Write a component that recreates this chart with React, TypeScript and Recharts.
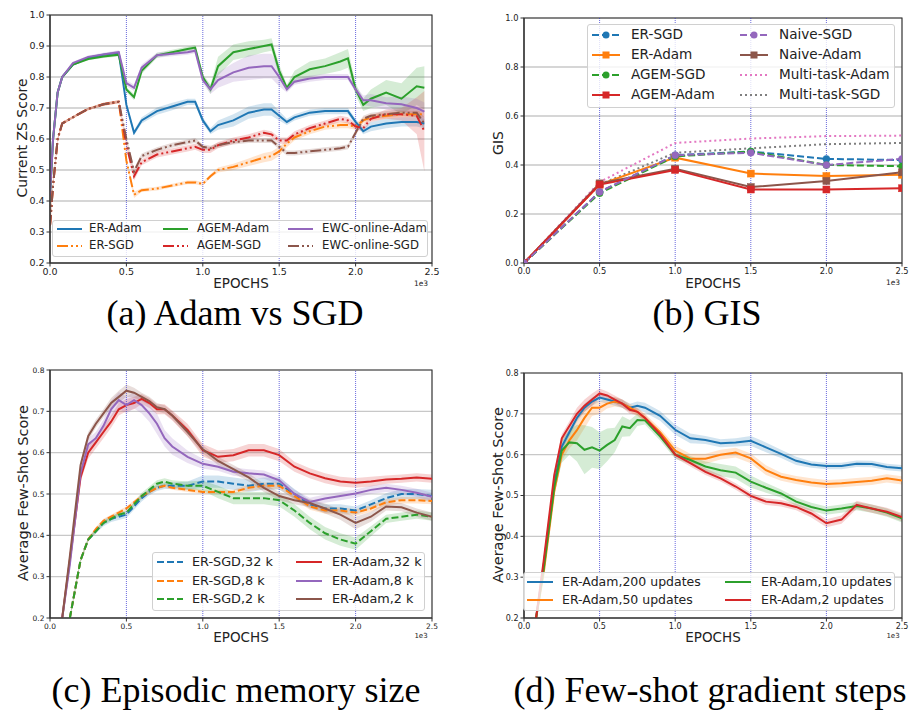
import React from "react";
import {
  ComposedChart,
  Line,
  Area,
  XAxis,
  YAxis,
  CartesianGrid,
  ReferenceLine,
  ReferenceArea,
} from "recharts";

const SANS = "'DejaVu Sans', sans-serif";
const SERIF = "'Liberation Serif', 'Times New Roman', serif";

// shared x axis
const xTicks = [0, 500, 1000, 1500, 2000, 2500];
const taskBoundaries = [500, 1000, 1500, 2000];

// ---------- (a) Adam vs SGD ----------
const epochsA = [0, 20, 50, 80, 150, 250, 350, 450, 500, 550, 600, 700, 800, 900, 950, 1000, 1050, 1100, 1200, 1300, 1400, 1450, 1500, 1550, 1600, 1700, 1800, 1900, 1950, 2000, 2050, 2100, 2200, 2300, 2400, 2450];
const erAdamA = [0.42, 0.6, 0.75, 0.8, 0.84, 0.862, 0.872, 0.878, 0.71, 0.62, 0.66, 0.69, 0.705, 0.72, 0.72, 0.66, 0.625, 0.645, 0.66, 0.685, 0.695, 0.695, 0.675, 0.655, 0.67, 0.685, 0.69, 0.69, 0.69, 0.655, 0.625, 0.64, 0.65, 0.655, 0.655, 0.65];
const agemAdamA = [0.42, 0.6, 0.75, 0.8, 0.84, 0.858, 0.866, 0.872, 0.76, 0.735, 0.82, 0.87, 0.88, 0.89, 0.895, 0.8, 0.76, 0.835, 0.88, 0.89, 0.9, 0.905, 0.82, 0.765, 0.8, 0.825, 0.835, 0.85, 0.86, 0.76, 0.71, 0.73, 0.75, 0.73, 0.77, 0.765];
const ewcAdamA = [0.42, 0.6, 0.75, 0.8, 0.845, 0.865, 0.873, 0.88, 0.78, 0.765, 0.83, 0.87, 0.875, 0.88, 0.885, 0.79, 0.76, 0.79, 0.815, 0.83, 0.835, 0.835, 0.8, 0.76, 0.785, 0.795, 0.8, 0.8, 0.8, 0.76, 0.725, 0.725, 0.715, 0.712, 0.7, 0.688];
const erSgdA = [0.32, 0.45, 0.6, 0.65, 0.67, 0.697, 0.712, 0.72, 0.53, 0.42, 0.435, 0.44, 0.45, 0.46, 0.46, 0.455, 0.48, 0.5, 0.51, 0.525, 0.54, 0.545, 0.56, 0.585, 0.605, 0.625, 0.64, 0.645, 0.645, 0.64, 0.66, 0.67, 0.675, 0.68, 0.68, 0.68];
const agemSgdA = [0.32, 0.45, 0.6, 0.65, 0.67, 0.697, 0.712, 0.72, 0.58, 0.48, 0.525, 0.55, 0.56, 0.57, 0.575, 0.565, 0.565, 0.58, 0.595, 0.605, 0.62, 0.615, 0.595, 0.595, 0.615, 0.635, 0.65, 0.665, 0.66, 0.64, 0.635, 0.665, 0.68, 0.68, 0.675, 0.625];
const ewcSgdA = [0.32, 0.45, 0.6, 0.65, 0.67, 0.697, 0.712, 0.72, 0.6, 0.495, 0.545, 0.565, 0.58, 0.59, 0.595, 0.575, 0.57, 0.58, 0.59, 0.595, 0.595, 0.595, 0.575, 0.555, 0.555, 0.56, 0.565, 0.57, 0.575, 0.62, 0.665, 0.675, 0.68, 0.685, 0.685, 0.65];
// half-width of the shaded bands
const erAdamSdA = [0.01, 0.01, 0.005, 0.005, 0.004, 0.004, 0.005, 0.006, 0.008, 0.008, 0.01, 0.012, 0.012, 0.01, 0.01, 0.01, 0.01, 0.015, 0.02, 0.02, 0.02, 0.02, 0.015, 0.01, 0.01, 0.01, 0.01, 0.01, 0.01, 0.01, 0.01, 0.015, 0.015, 0.015, 0.015, 0.015];
const agemAdamSdA = [0.01, 0.01, 0.005, 0.005, 0.004, 0.004, 0.005, 0.006, 0.008, 0.01, 0.01, 0.008, 0.008, 0.008, 0.008, 0.01, 0.015, 0.03, 0.025, 0.025, 0.02, 0.02, 0.02, 0.01, 0.02, 0.025, 0.025, 0.03, 0.03, 0.02, 0.02, 0.03, 0.04, 0.05, 0.06, 0.07];
const ewcAdamSdA = [0.01, 0.01, 0.005, 0.005, 0.004, 0.004, 0.005, 0.006, 0.01, 0.01, 0.01, 0.008, 0.008, 0.008, 0.008, 0.01, 0.015, 0.025, 0.03, 0.04, 0.04, 0.04, 0.03, 0.01, 0.01, 0.01, 0.01, 0.01, 0.01, 0.01, 0.015, 0.02, 0.02, 0.025, 0.03, 0.03];
const erSgdSdA = [0.01, 0.01, 0.005, 0.005, 0.004, 0.004, 0.005, 0.005, 0.01, 0.01, 0.006, 0.006, 0.006, 0.006, 0.006, 0.006, 0.006, 0.008, 0.01, 0.012, 0.015, 0.015, 0.015, 0.012, 0.01, 0.01, 0.01, 0.01, 0.01, 0.01, 0.01, 0.01, 0.01, 0.01, 0.01, 0.01];
const agemSgdSdA = [0.01, 0.01, 0.005, 0.005, 0.004, 0.004, 0.005, 0.005, 0.01, 0.015, 0.01, 0.01, 0.01, 0.01, 0.01, 0.01, 0.01, 0.01, 0.01, 0.01, 0.01, 0.01, 0.01, 0.01, 0.01, 0.01, 0.01, 0.01, 0.01, 0.01, 0.01, 0.01, 0.015, 0.02, 0.06, 0.13];
const ewcSgdSdA = [0.01, 0.01, 0.005, 0.005, 0.004, 0.004, 0.005, 0.005, 0.01, 0.01, 0.008, 0.008, 0.008, 0.008, 0.008, 0.008, 0.008, 0.008, 0.008, 0.008, 0.008, 0.008, 0.008, 0.008, 0.008, 0.008, 0.008, 0.008, 0.008, 0.01, 0.01, 0.01, 0.01, 0.01, 0.015, 0.02];
const yTicksA = [0.2, 0.3, 0.4, 0.5, 0.6, 0.7, 0.8, 0.9, 1.0];

// ---------- (b) GIS ----------
const epochsB = [0, 500, 1000, 1500, 2000, 2500];
const erSgdB = [0, 0.29, 0.44, 0.455, 0.425, 0.42];
const erAdamB = [0, 0.32, 0.43, 0.365, 0.355, 0.36];
const agemSgdB = [0, 0.285, 0.435, 0.455, 0.4, 0.395];
const agemAdamB = [0, 0.32, 0.38, 0.3, 0.3, 0.305];
const naiveSgdB = [0, 0.29, 0.44, 0.45, 0.4, 0.425];
const naiveAdamB = [0, 0.325, 0.385, 0.31, 0.335, 0.37];
const mtAdamB = [0, 0.33, 0.49, 0.508, 0.518, 0.52];
const mtSgdB = [0, 0.32, 0.45, 0.468, 0.485, 0.49];
const yTicksB = [0, 0.2, 0.4, 0.6, 0.8, 1.0];

// ---------- (c) Episodic memory size / (d) Few-shot gradient steps ----------
const epochsC = [80, 130, 200, 250, 300, 350, 400, 450, 500, 550, 600, 650, 700, 750, 800, 900, 1000, 1100, 1200, 1300, 1400, 1500, 1600, 1700, 1800, 1900, 2000, 2100, 2200, 2300, 2400, 2500];
const sgd32C = [null, 0.2, 0.34, 0.39, 0.41, 0.43, 0.44, 0.445, 0.45, 0.47, 0.49, 0.505, 0.515, 0.52, 0.52, 0.52, 0.53, 0.53, 0.525, 0.52, 0.525, 0.525, 0.5, 0.475, 0.465, 0.465, 0.46, 0.475, 0.49, 0.5, 0.5, 0.495];
const sgd8C = [null, 0.2, 0.34, 0.39, 0.415, 0.435, 0.445, 0.455, 0.465, 0.48, 0.495, 0.505, 0.515, 0.52, 0.515, 0.51, 0.505, 0.505, 0.505, 0.515, 0.52, 0.52, 0.495, 0.47, 0.46, 0.46, 0.455, 0.465, 0.48, 0.485, 0.485, 0.483];
const sgd2C = [null, 0.2, 0.34, 0.39, 0.41, 0.43, 0.44, 0.45, 0.455, 0.475, 0.495, 0.51, 0.525, 0.53, 0.525, 0.52, 0.52, 0.505, 0.49, 0.49, 0.49, 0.485, 0.46, 0.43, 0.405, 0.39, 0.38, 0.41, 0.44, 0.445, 0.45, 0.445];
const adam32C = [0.2, 0.34, 0.54, 0.6, 0.625, 0.65, 0.675, 0.705, 0.715, 0.72, 0.73, 0.72, 0.705, 0.705, 0.69, 0.655, 0.606, 0.59, 0.594, 0.606, 0.606, 0.594, 0.566, 0.55, 0.538, 0.53, 0.527, 0.53, 0.535, 0.537, 0.54, 0.537];
const adam8C = [0.2, 0.33, 0.55, 0.62, 0.635, 0.665, 0.705, 0.727, 0.715, 0.727, 0.715, 0.695, 0.67, 0.635, 0.615, 0.59, 0.573, 0.566, 0.554, 0.55, 0.547, 0.533, 0.5, 0.481, 0.489, 0.495, 0.501, 0.51, 0.515, 0.51, 0.503, 0.493];
const adam2C = [0.2, 0.35, 0.57, 0.64, 0.67, 0.695, 0.72, 0.735, 0.75, 0.745, 0.735, 0.725, 0.71, 0.705, 0.69, 0.65, 0.608, 0.58, 0.56, 0.54, 0.515, 0.495, 0.485, 0.478, 0.465, 0.45, 0.43, 0.445, 0.47, 0.468, 0.455, 0.445];
const sgd32SdC = [null, 0.005, 0.005, 0.005, 0.005, 0.008, 0.008, 0.008, 0.008, 0.008, 0.008, 0.008, 0.008, 0.008, 0.008, 0.01, 0.015, 0.015, 0.015, 0.015, 0.015, 0.015, 0.012, 0.01, 0.01, 0.01, 0.01, 0.01, 0.012, 0.012, 0.012, 0.015];
const sgd8SdC = [null, 0.005, 0.005, 0.005, 0.005, 0.005, 0.005, 0.005, 0.005, 0.005, 0.005, 0.005, 0.005, 0.005, 0.005, 0.005, 0.005, 0.005, 0.005, 0.008, 0.008, 0.008, 0.008, 0.008, 0.008, 0.008, 0.008, 0.008, 0.008, 0.008, 0.008, 0.008];
const sgd2SdC = [null, 0.005, 0.005, 0.005, 0.005, 0.005, 0.005, 0.005, 0.005, 0.005, 0.008, 0.008, 0.008, 0.008, 0.008, 0.01, 0.012, 0.015, 0.015, 0.015, 0.015, 0.015, 0.015, 0.015, 0.015, 0.015, 0.015, 0.012, 0.01, 0.01, 0.01, 0.01];
const adam32SdC = [0.005, 0.01, 0.01, 0.015, 0.015, 0.015, 0.015, 0.015, 0.015, 0.015, 0.012, 0.012, 0.012, 0.012, 0.012, 0.015, 0.015, 0.015, 0.015, 0.015, 0.015, 0.015, 0.012, 0.012, 0.012, 0.012, 0.012, 0.012, 0.01, 0.01, 0.01, 0.01];
const adam8SdC = [0.005, 0.01, 0.01, 0.015, 0.015, 0.015, 0.02, 0.02, 0.02, 0.02, 0.02, 0.02, 0.025, 0.02, 0.02, 0.015, 0.012, 0.01, 0.01, 0.01, 0.01, 0.01, 0.01, 0.01, 0.01, 0.01, 0.01, 0.01, 0.01, 0.01, 0.01, 0.01];
const adam2SdC = [0.005, 0.01, 0.01, 0.01, 0.01, 0.01, 0.012, 0.015, 0.015, 0.012, 0.01, 0.01, 0.01, 0.01, 0.01, 0.01, 0.01, 0.01, 0.01, 0.01, 0.01, 0.01, 0.01, 0.01, 0.012, 0.012, 0.015, 0.012, 0.01, 0.01, 0.01, 0.01];

const upd200D = [0.2, 0.33, 0.53, 0.62, 0.655, 0.69, 0.715, 0.73, 0.74, 0.735, 0.73, 0.725, 0.715, 0.72, 0.715, 0.695, 0.661, 0.64, 0.636, 0.628, 0.63, 0.634, 0.618, 0.602, 0.585, 0.576, 0.572, 0.572, 0.578, 0.577, 0.57, 0.567];
const upd50D = [0.2, 0.31, 0.51, 0.6, 0.635, 0.66, 0.69, 0.715, 0.715, 0.725, 0.73, 0.725, 0.715, 0.705, 0.69, 0.655, 0.61, 0.59, 0.59, 0.6, 0.605, 0.591, 0.562, 0.546, 0.538, 0.532, 0.528, 0.53, 0.533, 0.536, 0.542, 0.537];
const upd10D = [0.2, 0.32, 0.52, 0.61, 0.63, 0.628, 0.612, 0.618, 0.61, 0.624, 0.636, 0.669, 0.665, 0.685, 0.684, 0.645, 0.6, 0.587, 0.571, 0.562, 0.556, 0.534, 0.519, 0.505, 0.485, 0.472, 0.463, 0.468, 0.474, 0.468, 0.458, 0.444];
const upd2D = [0.2, 0.34, 0.55, 0.64, 0.67, 0.7, 0.72, 0.735, 0.75, 0.745, 0.735, 0.725, 0.71, 0.705, 0.69, 0.65, 0.6, 0.579, 0.558, 0.542, 0.522, 0.499, 0.485, 0.481, 0.472, 0.456, 0.432, 0.441, 0.477, 0.468, 0.46, 0.447];
const upd200SdD = [0.005, 0.01, 0.01, 0.01, 0.01, 0.01, 0.01, 0.01, 0.01, 0.01, 0.01, 0.01, 0.01, 0.01, 0.012, 0.012, 0.012, 0.012, 0.01, 0.01, 0.01, 0.012, 0.012, 0.01, 0.01, 0.008, 0.008, 0.008, 0.008, 0.008, 0.008, 0.008];
const upd50SdD = [0.005, 0.01, 0.01, 0.015, 0.02, 0.025, 0.025, 0.02, 0.015, 0.012, 0.012, 0.01, 0.01, 0.01, 0.01, 0.01, 0.012, 0.012, 0.012, 0.012, 0.012, 0.012, 0.012, 0.01, 0.01, 0.01, 0.01, 0.01, 0.01, 0.01, 0.01, 0.01];
const upd10SdD = [0.005, 0.01, 0.02, 0.03, 0.03, 0.045, 0.06, 0.05, 0.045, 0.04, 0.03, 0.025, 0.02, 0.015, 0.01, 0.01, 0.01, 0.01, 0.012, 0.015, 0.015, 0.015, 0.012, 0.01, 0.01, 0.01, 0.01, 0.01, 0.01, 0.01, 0.01, 0.01];
const upd2SdD = [0.005, 0.01, 0.01, 0.01, 0.012, 0.015, 0.015, 0.015, 0.012, 0.01, 0.01, 0.01, 0.01, 0.008, 0.008, 0.008, 0.008, 0.008, 0.008, 0.008, 0.008, 0.008, 0.008, 0.008, 0.008, 0.01, 0.01, 0.01, 0.01, 0.01, 0.01, 0.01];
const yTicksC = [0.2, 0.3, 0.4, 0.5, 0.6, 0.7, 0.8];

type Vals = (number | null)[];

function buildRows(xs: number[], series: Record<string, Vals>, spreads: Record<string, Vals> = {}) {
  return xs.map((x, i) => {
    const row: any = { x };
    for (const k of Object.keys(series)) {
      const v = series[k][i];
      row[k] = v;
      const s = spreads[k] ? spreads[k][i] : null;
      if (v != null && s != null) row[k + "Band"] = [v - s, v + s];
    }
    return row;
  });
}

const rowsA = buildRows(
  epochsA,
  { erAdam: erAdamA, agemAdam: agemAdamA, ewcAdam: ewcAdamA, erSgd: erSgdA, agemSgd: agemSgdA, ewcSgd: ewcSgdA },
  { erAdam: erAdamSdA, agemAdam: agemAdamSdA, ewcAdam: ewcAdamSdA, erSgd: erSgdSdA, agemSgd: agemSgdSdA, ewcSgd: ewcSgdSdA }
);
const rowsB = buildRows(epochsB, {
  erSgd: erSgdB, erAdam: erAdamB, agemSgd: agemSgdB, agemAdam: agemAdamB,
  naiveSgd: naiveSgdB, naiveAdam: naiveAdamB, mtAdam: mtAdamB, mtSgd: mtSgdB,
});
const rowsC = buildRows(
  epochsC,
  { sgd32: sgd32C, sgd8: sgd8C, sgd2: sgd2C, adam32: adam32C, adam8: adam8C, adam2: adam2C },
  { sgd32: sgd32SdC, sgd8: sgd8SdC, sgd2: sgd2SdC, adam32: adam32SdC, adam8: adam8SdC, adam2: adam2SdC }
);
const rowsD = buildRows(
  epochsC,
  { u200: upd200D, u50: upd50D, u10: upd10D, u2: upd2D },
  { u200: upd200SdD, u50: upd50SdD, u10: upd10SdD, u2: upd2SdD }
);

const C = {
  blue: "#1f77b4", orange: "#ff7f0e", green: "#2ca02c", red: "#d62728",
  purple: "#9467bd", brown: "#8c564b", pink: "#e377c2", gray: "#7f7f7f",
};
const DASHDOT = "11 3 2 3 2 3";
const DASH = "7 3";
const DOT = "2 3";

type S = { key: string; name: string; color: string; dash?: string; width?: number; marker?: "circle" | "square" };

const seriesA: S[] = [
  { key: "erAdam", name: "ER-Adam", color: C.blue },
  { key: "erSgd", name: "ER-SGD", color: C.orange, dash: DASHDOT },
  { key: "agemAdam", name: "AGEM-Adam", color: C.green },
  { key: "agemSgd", name: "AGEM-SGD", color: C.red, dash: DASHDOT },
  { key: "ewcAdam", name: "EWC-online-Adam", color: C.purple },
  { key: "ewcSgd", name: "EWC-online-SGD", color: C.brown, dash: DASHDOT },
];
const seriesB: S[] = [
  { key: "mtAdam", name: "Multi-task-Adam", color: C.pink, dash: DOT },
  { key: "mtSgd", name: "Multi-task-SGD", color: C.gray, dash: DOT },
  { key: "erSgd", name: "ER-SGD", color: C.blue, dash: DASH, marker: "circle" },
  { key: "erAdam", name: "ER-Adam", color: C.orange, marker: "square" },
  { key: "agemSgd", name: "AGEM-SGD", color: C.green, dash: DASH, marker: "circle" },
  { key: "naiveAdam", name: "Naive-Adam", color: C.brown, marker: "square" },
  { key: "agemAdam", name: "AGEM-Adam", color: C.red, marker: "square" },
  { key: "naiveSgd", name: "Naive-SGD", color: C.purple, dash: DASH, marker: "circle" },
];
const seriesC: S[] = [
  { key: "sgd32", name: "ER-SGD,32 k", color: C.blue, dash: DASH },
  { key: "sgd8", name: "ER-SGD,8 k", color: C.orange, dash: DASH },
  { key: "sgd2", name: "ER-SGD,2 k", color: C.green, dash: DASH },
  { key: "adam32", name: "ER-Adam,32 k", color: C.red },
  { key: "adam8", name: "ER-Adam,8 k", color: C.purple },
  { key: "adam2", name: "ER-Adam,2 k", color: C.brown },
];
const seriesD: S[] = [
  { key: "u200", name: "ER-Adam,200 updates", color: C.blue },
  { key: "u50", name: "ER-Adam,50 updates", color: C.orange },
  { key: "u10", name: "ER-Adam,10 updates", color: C.green },
  { key: "u2", name: "ER-Adam,2 updates", color: C.red },
];

function markerDot(s: S) {
  return (p: any) => {
    if (p.cx == null || p.cy == null) return <g key={p.index} />;
    if (s.marker === "square")
      return <rect key={p.index} x={p.cx - 3.5} y={p.cy - 3.5} width={7} height={7} fill={s.color} stroke={s.color} strokeWidth={0.5} />;
    return <circle key={p.index} cx={p.cx} cy={p.cy} r={3.5} fill={s.color} stroke={s.color} strokeWidth={0.5} />;
  };
}

type PanelProps = {
  left: number; top: number; width: number; height: number;
  margin: { top: number; right: number; bottom: number; left: number };
  rows: any[]; series: S[]; bands?: boolean;
  yDomain: [number, number]; yTicks: number[];
  fontSize: number; gridWidth: number;
};

function Panel({ left, top, width, height, margin, rows, series, bands, yDomain, yTicks, fontSize, gridWidth }: PanelProps) {
  const tick = { fontSize, fill: "#222", fontFamily: SANS };
  return (
    <div style={{ position: "absolute", left, top }}>
      <ComposedChart width={width} height={height} data={rows} margin={margin}>
        <CartesianGrid vertical={false} stroke="#c8c8c8" strokeWidth={gridWidth} />
        <XAxis
          dataKey="x" type="number" domain={[0, 2500]} ticks={xTicks} allowDataOverflow
          tickFormatter={(v: number) => (v / 1000).toFixed(1)}
          tick={tick} tickSize={3.5} height={20}
          axisLine={{ stroke: "#333", strokeWidth: 1.2 }} tickLine={{ stroke: "#333" }}
        />
        <YAxis
          type="number" domain={yDomain} ticks={yTicks} allowDataOverflow
          tickFormatter={(v: number) => v.toFixed(1)}
          tick={tick} tickSize={3.5} width={30}
          axisLine={{ stroke: "#333", strokeWidth: 1.2 }} tickLine={{ stroke: "#333" }}
        />
        {taskBoundaries.map((x) => (
          <ReferenceLine key={x} x={x} stroke="#3030d0" strokeOpacity={0.8} strokeDasharray="1 1" strokeWidth={0.9} />
        ))}
        {bands &&
          series.map((s) => (
            <Area
              key={s.key + "Band"} type="linear" dataKey={s.key + "Band"} stroke="none"
              fill={s.color} fillOpacity={0.2} isAnimationActive={false} activeDot={false}
            />
          ))}
        {series.map((s) => (
          <Line
            key={s.key} type="linear" dataKey={s.key} stroke={s.color}
            strokeWidth={s.width ?? 2} strokeDasharray={s.dash}
            dot={s.marker ? markerDot(s) : false} activeDot={false}
            isAnimationActive={false}
          />
        ))}
        <ReferenceArea x1={0} x2={2500} y1={yDomain[0]} y2={yDomain[1]} fill="none" stroke="#333" strokeWidth={1.2} />
      </ComposedChart>
    </div>
  );
}

function Txt({ x, y, size, children, rotate, family, color }: { x: number; y: number; size: number; children: React.ReactNode; rotate?: number; family?: string; color?: string }) {
  return (
    <div
      style={{
        position: "absolute", left: x, top: y,
        transform: `translate(-50%, -50%)${rotate ? ` rotate(${rotate}deg)` : ""}`,
        fontSize: size, fontFamily: family ?? SANS, color: color ?? "#222",
        whiteSpace: "nowrap", lineHeight: 1,
      }}
    >
      {children}
    </div>
  );
}

type LegendCol = { sample: number; text: number; keys: string[] };
type LegendSpec = { left: number; top: number; width: number; height: number; fontSize: number; sampleWidth: number; cols: LegendCol[]; rowY: number[] };

function LegendBox({ spec, series }: { spec: LegendSpec; series: S[] }) {
  const find = (k: string) => series.find((s) => s.key === k)!;
  return (
    <>
      <div
        style={{
          position: "absolute", left: spec.left, top: spec.top, width: spec.width, height: spec.height,
          background: "rgba(255,255,255,0.8)", border: "1px solid #d0d0d0", borderRadius: 3, boxSizing: "border-box",
        }}
      />
      {spec.cols.map((col) =>
        col.keys.map((k, i) => {
          const s = find(k);
          const y = spec.rowY[i];
          const sw = spec.sampleWidth;
          return (
            <React.Fragment key={k}>
              <svg style={{ position: "absolute", left: col.sample, top: y - 6 }} width={sw} height={12}>
                <line x1={0} y1={6} x2={sw} y2={6} stroke={s.color} strokeWidth={2} strokeDasharray={s.dash} />
                {s.marker === "circle" && <circle cx={sw / 2} cy={6} r={3.5} fill={s.color} />}
                {s.marker === "square" && <rect x={sw / 2 - 3.5} y={2.5} width={7} height={7} fill={s.color} />}
              </svg>
              <div
                style={{
                  position: "absolute", left: col.text, top: y, transform: "translateY(-50%)",
                  fontSize: spec.fontSize, fontFamily: SANS, color: "#222", whiteSpace: "nowrap", lineHeight: 1,
                }}
              >
                {s.name}
              </div>
            </React.Fragment>
          );
        })
      )}
    </>
  );
}

const legendA: LegendSpec = {
  left: 52, top: 220, width: 376, height: 37, fontSize: 11.7, sampleWidth: 25,
  cols: [
    { sample: 57, text: 89, keys: ["erAdam", "erSgd"] },
    { sample: 163, text: 197, keys: ["agemAdam", "agemSgd"] },
    { sample: 288, text: 322, keys: ["ewcAdam", "ewcSgd"] },
  ],
  rowY: [229, 246],
};
const legendB: LegendSpec = {
  left: 587, top: 24, width: 308, height: 84, fontSize: 13.6, sampleWidth: 28,
  cols: [
    { sample: 592, text: 631, keys: ["erSgd", "erAdam", "agemSgd", "agemAdam"] },
    { sample: 740, text: 779, keys: ["naiveSgd", "naiveAdam", "mtAdam", "mtSgd"] },
  ],
  rowY: [35, 55, 75, 95],
};
const legendC: LegendSpec = {
  left: 152, top: 552, width: 273, height: 59, fontSize: 12.8, sampleWidth: 26,
  cols: [
    { sample: 157, text: 192, keys: ["sgd32", "sgd8", "sgd2"] },
    { sample: 296, text: 332, keys: ["adam32", "adam8", "adam2"] },
  ],
  rowY: [562, 581, 599],
};
const legendD: LegendSpec = {
  left: 523, top: 572, width: 372, height: 39, fontSize: 12.5, sampleWidth: 26,
  cols: [
    { sample: 527, text: 562, keys: ["u200", "u50"] },
    { sample: 725, text: 761, keys: ["u10", "u2"] },
  ],
  rowY: [582, 600],
};

export default function App() {
  return (
    <div style={{ position: "absolute", left: 0, top: 0, width: 913, height: 720, background: "#fff", overflow: "hidden" }}>
      <Panel
        left={0} top={0} width={460} height={300}
        margin={{ top: 15, right: 28, bottom: 17, left: 20 }}
        rows={rowsA} series={seriesA} bands yDomain={[0.2, 1.0]} yTicks={yTicksA}
        fontSize={9.5} gridWidth={1.6}
      />
      <Panel
        left={460} top={0} width={453} height={300}
        margin={{ top: 18, right: 11, bottom: 17, left: 34 }}
        rows={rowsB} series={seriesB} yDomain={[0, 1.0]} yTicks={yTicksB}
        fontSize={8.3} gridWidth={1.3}
      />
      <Panel
        left={0} top={360} width={460} height={300}
        margin={{ top: 10, right: 28, bottom: 22, left: 20 }}
        rows={rowsC} series={seriesC} bands yDomain={[0.2, 0.8]} yTicks={yTicksC}
        fontSize={7.5} gridWidth={1.1}
      />
      <Panel
        left={460} top={360} width={453} height={300}
        margin={{ top: 13, right: 11, bottom: 22, left: 34 }}
        rows={rowsD} series={seriesD} bands yDomain={[0.2, 0.8]} yTicks={yTicksC}
        fontSize={8} gridWidth={1.1}
      />

      <LegendBox spec={legendA} series={seriesA} />
      <LegendBox spec={legendB} series={seriesB} />
      <LegendBox spec={legendC} series={seriesC} />
      <LegendBox spec={legendD} series={seriesD} />

      <Txt x={22} y={138} size={14} rotate={-90}>Current ZS Score</Txt>
      <Txt x={241} y={284} size={13.5}>EPOCHS</Txt>
      <Txt x={421} y={284} size={7.5}>1e3</Txt>

      <Txt x={498} y={143} size={14} rotate={-90}>GIS</Txt>
      <Txt x={713} y={284} size={13.5}>EPOCHS</Txt>
      <Txt x={893} y={283} size={7.5}>1e3</Txt>

      <Txt x={23} y={493} size={14.5} rotate={-90}>Average Few-Shot Score</Txt>
      <Txt x={241} y={638} size={13.5}>EPOCHS</Txt>
      <Txt x={421} y={636} size={7}>1e3</Txt>

      <Txt x={498} y={495} size={14.5} rotate={-90}>Average Few-Shot Score</Txt>
      <Txt x={713} y={638} size={13.5}>EPOCHS</Txt>
      <Txt x={893} y={636} size={7}>1e3</Txt>

      <Txt x={235} y={313} size={36} family={SERIF} color="#000">(a) Adam vs SGD</Txt>
      <Txt x={707} y={313} size={36} family={SERIF} color="#000">(b) GIS</Txt>
      <Txt x={236} y={690} size={36} family={SERIF} color="#000">(c) Episodic memory size</Txt>
      <Txt x={710} y={690} size={36} family={SERIF} color="#000">(d) Few-shot gradient steps</Txt>
    </div>
  );
}
